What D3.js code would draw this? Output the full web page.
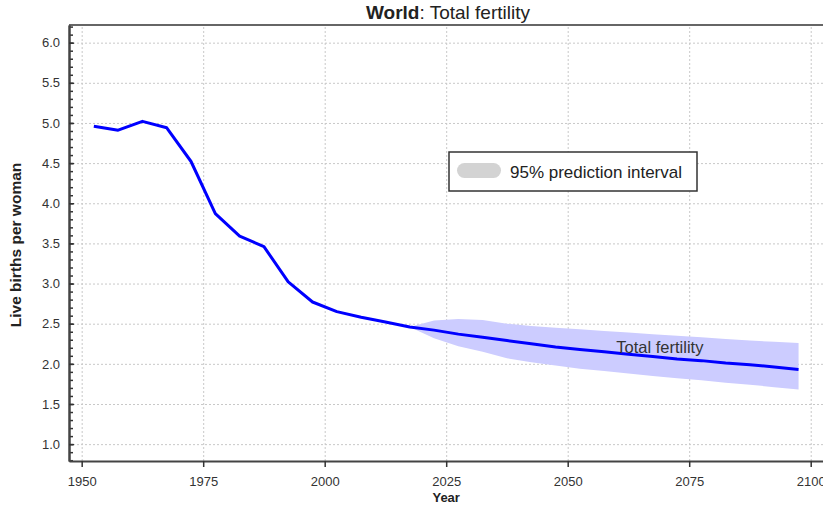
<!DOCTYPE html>
<html>
<head>
<meta charset="utf-8">
<script src="https://cdn.jsdelivr.net/npm/d3@7"></script>
<style>
    body { margin: 0; background: #fff; }
    svg { font-family: "Liberation Sans", Arial, sans-serif; display: block; }
    .grid line { stroke: #c8c8c8; stroke-dasharray: 2,2; }
    .grid path { display: none; }
    .axis text { fill: #333; font-size: 13px; }
    .axis line { stroke: #333; stroke-width: 1.5; }
    .axis path { stroke: #444; stroke-width: 2; }
</style>
</head>
<body>
<div id="output"></div>
<script>
// estimates + medium projection, mid points of 5-year periods
var years = [1952.5, 1957.5, 1962.5, 1967.5, 1972.5, 1977.5, 1982.5, 1987.5, 1992.5, 1997.5,
             2002.5, 2007.5, 2012.5, 2017.5, 2022.5, 2027.5, 2032.5, 2037.5, 2042.5, 2047.5,
             2052.5, 2057.5, 2062.5, 2067.5, 2072.5, 2077.5, 2082.5, 2087.5, 2092.5, 2097.5];
var tfr = [4.96, 4.91, 5.02, 4.94, 4.52, 3.87, 3.59, 3.46, 3.02, 2.77,
           2.65, 2.58, 2.52, 2.46, 2.42, 2.37, 2.33, 2.29, 2.25, 2.21,
           2.18, 2.15, 2.12, 2.09, 2.06, 2.04, 2.01, 1.99, 1.96, 1.93];

// 95% prediction interval
var piYears = [2017.5, 2022.5, 2027.5, 2032.5, 2037.5, 2042.5, 2047.5, 2052.5, 2057.5,
               2062.5, 2067.5, 2072.5, 2077.5, 2082.5, 2087.5, 2092.5, 2097.5];
var piUpper = [2.46, 2.54, 2.56, 2.545, 2.50, 2.47, 2.45, 2.43, 2.41,
               2.39, 2.37, 2.35, 2.33, 2.31, 2.29, 2.275, 2.26];
var piLower = [2.46, 2.32, 2.22, 2.15, 2.07, 2.02, 1.98, 1.94, 1.91,
               1.88, 1.85, 1.82, 1.795, 1.765, 1.74, 1.71, 1.68];

var xTicks = [1950, 1975, 2000, 2025, 2050, 2075, 2100];
var yTicks = [1.0, 1.5, 2.0, 2.5, 3.0, 3.5, 4.0, 4.5, 5.0, 5.5, 6.0];
var yMinor = d3.range(8, 63).map(function (d) { return d / 10 });

var w = 823;
var h = 510;
var plot = {left: 69, right: 830, top: 25, bottom: 461};

var x = d3.scaleLinear()
    .domain([1947.39, 2103.97])
    .range([plot.left, plot.right]);

var y = d3.scaleLinear()
    .domain([0.79, 6.22])
    .range([plot.bottom, plot.top]);

var svg = d3.select("#output").append("svg")
    .attr("width", w)
    .attr("height", h)

// grid
svg.append("g")
    .attr("class", "grid")
    .attr("transform", "translate(0," + plot.bottom + ")")
    .call(d3.axisBottom(x).tickValues(xTicks).tickSize(-(plot.bottom - plot.top)).tickFormat(""));

svg.append("g")
    .attr("class", "grid")
    .attr("transform", "translate(" + plot.left + ",0)")
    .call(d3.axisLeft(y).tickValues(yTicks).tickSize(-(plot.right - plot.left)).tickFormat(""));

// top frame
svg.append("line")
    .attr("x1", plot.left).attr("x2", plot.right)
    .attr("y1", plot.top).attr("y2", plot.top)
    .attr("stroke", "#333")
    .attr("stroke-width", 1.5)

// prediction band
var band = piYears.map(function (d, i) { return [d, piLower[i], piUpper[i]] });

svg.append("path")
    .datum(band)
    .attr("fill", "#ccccff")
    .attr("d", d3.area()
        .x(function (d) { return x(d[0]) })
        .y0(function (d) { return y(d[1]) })
        .y1(function (d) { return y(d[2]) }));

// main line
svg.append("path")
    .datum(years.map(function (d, i) { return [d, tfr[i]] }))
    .attr("fill", "none")
    .attr("stroke", "#0000ff")
    .attr("stroke-width", 3)
    .attr("stroke-linejoin", "round")
    .attr("d", d3.line()
        .x(function (d) { return x(d[0]) })
        .y(function (d) { return y(d[1]) }));

svg.append("text")
    .attr("x", x(2060))
    .attr("y", y(2.13))
    .attr("font-size", "16.5px")
    .attr("fill", "#333")
    .text("Total fertility")

// axes
svg.append("g")
    .attr("class", "axis")
    .attr("transform", "translate(" + plot.left + ",0)")
    .call(d3.axisLeft(y).tickValues(yMinor).tickSizeInner(-4).tickSizeOuter(0).tickFormat(""));

svg.append("g")
    .attr("class", "axis")
    .attr("transform", "translate(" + plot.left + ",0)")
    .call(d3.axisLeft(y).tickValues(yTicks).tickSizeInner(-5).tickSizeOuter(0)
        .tickPadding(9).tickFormat(d3.format(".1f")));

svg.append("g")
    .attr("class", "axis")
    .attr("transform", "translate(0," + plot.bottom + ")")
    .call(d3.axisBottom(x).tickValues(xTicks).tickSizeInner(6).tickSizeOuter(0)
        .tickPadding(10).tickFormat(d3.format("d")));

// legend
var legend = svg.append("g")
    .attr("transform", "translate(449,152)")

legend.append("rect")
    .attr("width", 248).attr("height", 39)
    .attr("fill", "#fff")
    .attr("stroke", "#333")
    .attr("stroke-width", 1.5)

legend.append("rect")
    .attr("x", 8).attr("y", 11)
    .attr("width", 44).attr("height", 15)
    .attr("rx", 7.5)
    .attr("fill", "#d3d3d3")

legend.append("text")
    .attr("x", 61).attr("y", 26)
    .attr("font-size", "17px")
    .attr("fill", "#222")
    .text("95% prediction interval")

// titles
var title = svg.append("text")
    .attr("x", 448).attr("y", 19)
    .attr("text-anchor", "middle")
    .attr("font-size", "19px")
    .attr("fill", "#222")

title.append("tspan").attr("font-weight", "bold").text("World")
title.append("tspan").text(": Total fertility")

svg.append("text")
    .attr("transform", "translate(21,245) rotate(-90)")
    .attr("text-anchor", "middle")
    .attr("font-size", "15.5px")
    .attr("font-weight", "bold")
    .attr("fill", "#222")
    .text("Live births per woman")

svg.append("text")
    .attr("x", x(2025)).attr("y", 502)
    .attr("text-anchor", "middle")
    .attr("font-size", "13px")
    .attr("font-weight", "bold")
    .attr("fill", "#222")
    .text("Year")
</script>
</body>
</html>
